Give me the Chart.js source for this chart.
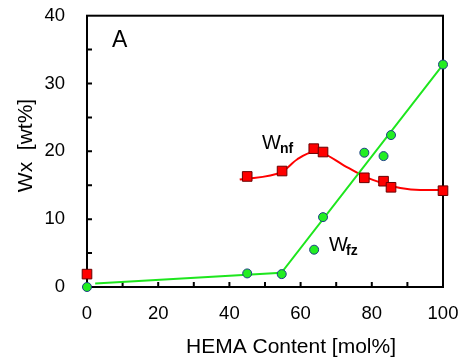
<!DOCTYPE html>
<html>
<head>
<meta charset="utf-8">
<script src="https://cdn.jsdelivr.net/npm/chart.js@4/dist/chart.umd.min.js"></script>
<style>
  body { margin: 0; background: #ffffff }
  #wrap { width: 461px; height: 359px }
</style>
</head>
<body>
<div id="wrap"><canvas id="chart" width="461" height="359"></canvas></div>
<script>
// W_nf (non-freezing water), red squares
var nfX = [0, 45, 54.8, 63.7, 66.3, 77.9, 83.3, 85.4, 100]
var nfY = [1.9, 16.3, 17.1, 20.4, 19.9, 16.1, 15.6, 14.7, 14.2]

// W_fz (freezing water), green circles
var fzX = [0, 45, 54.7, 63.8, 66.3, 77.9, 83.3, 85.4, 100]
var fzY = [0, 2.0, 1.9, 5.5, 10.3, 19.8, 19.3, 22.4, 32.8]

// hand drawn guide curves
var nfCurveX = [42.9, 54.8, 59, 63.7, 66.3, 72.1, 77.9, 83.3, 88, 93.6, 100]
var nfCurveY = [15.85, 17.0, 18.8, 19.9, 19.7, 17.95, 16.3, 15.25, 14.6, 14.3, 14.3]
var fzLineX = [2.3, 54.6, 100]
var fzLineY = [0.5, 2.1, 32.8]

var xTicks = [0, 20, 40, 60, 80, 100]
var yTicks = [0, 10, 20, 30, 40]

var FONT = "'Liberation Sans', Arial, sans-serif"

function toPoints(xs, ys) {
  var pts = []
  for (var i = 0; i < xs.length; i++) {
    pts.push({ x: xs[i], y: ys[i] })
  }
  return pts
}

// fixed axis sizes, and no extra room for the end labels
function fixSize(scale) {
  if (scale.isHorizontal()) {
    scale.height = 72
  } else {
    scale.width = 87
  }
  scale.paddingTop = 0
  scale.paddingBottom = 0
  scale.paddingLeft = 0
  scale.paddingRight = 0
}

// box round the plot and the little inward ticks
var framePlugin = {
  id: "frame",
  beforeDatasetsDraw: function (chart) {
    var ctx = chart.ctx
    var a = chart.chartArea
    var xs = chart.scales.x
    var ys = chart.scales.y
    ctx.save()
    ctx.strokeStyle = "#000000"
    ctx.lineWidth = 2
    ctx.strokeRect(a.left, a.top, a.right - a.left, a.bottom - a.top)
    ctx.beginPath()
    for (var v = 10; v < 100; v += 10) {
      var px = xs.getPixelForValue(v)
      ctx.moveTo(px, a.bottom)
      ctx.lineTo(px, a.bottom - 5)
    }
    for (var w = 5; w < 40; w += 5) {
      var py = ys.getPixelForValue(w)
      ctx.moveTo(a.left, py)
      ctx.lineTo(a.left + 5, py)
    }
    ctx.stroke()
    ctx.restore()
  },
  afterDraw: function (chart) {
    var ctx = chart.ctx
    ctx.save()
    ctx.fillStyle = "#000000"
    ctx.textBaseline = "alphabetic"

    // axis titles
    ctx.font = "21px " + FONT
    ctx.textAlign = "center"
    ctx.fillText("HEMA Content [mol%]", 291, 353)
    ctx.save()
    ctx.translate(32, 145.5)
    ctx.rotate(-Math.PI / 2)
    ctx.fillText("Wx  [wt%]", 0, 0)
    ctx.restore()

    // panel letter
    ctx.textAlign = "left"
    ctx.font = "23px " + FONT
    ctx.fillText("A", 112, 47)

    // series labels with subscripts
    ctx.font = "20px " + FONT
    ctx.fillText("W", 262, 149)
    ctx.fillText("W", 329, 251)
    ctx.font = "bold 14px " + FONT
    ctx.fillText("nf", 280, 153)
    ctx.fillText("fz", 346, 255)
    ctx.restore()
  }
}

new Chart(document.getElementById("chart"), {
  type: "scatter",
  plugins: [framePlugin],
  data: {
    datasets: [{
      label: "Wnf",
      data: toPoints(nfX, nfY),
      pointStyle: "rect",
      pointRadius: 6.8,
      backgroundColor: "#ff0000",
      borderColor: "#6a0000",
      borderWidth: 1,
      clip: false,
      order: 1
    }, {
      label: "Wfz",
      data: toPoints(fzX, fzY),
      pointStyle: "circle",
      pointRadius: 4.5,
      backgroundColor: "#22ee22",
      borderColor: "#1d3f86",
      borderWidth: 1,
      clip: false,
      order: 0
    }, {
      label: "Wnf curve",
      data: toPoints(nfCurveX, nfCurveY),
      showLine: true,
      cubicInterpolationMode: "monotone",
      pointRadius: 0,
      borderColor: "#ff0000",
      borderWidth: 2,
      order: 3
    }, {
      label: "Wfz line",
      data: toPoints(fzLineX, fzLineY),
      showLine: true,
      pointRadius: 0,
      borderColor: "#1ee61e",
      borderWidth: 2,
      order: 2
    }]
  },
  options: {
    responsive: false,
    animation: false,
    layout: { padding: { left: 0, right: 18, top: 15.7, bottom: 0 } },
    plugins: {
      legend: { display: false },
      tooltip: { enabled: false }
    },
    scales: {
      x: {
        type: "linear",
        min: 0,
        max: 100,
        afterFit: fixSize,
        afterBuildTicks: function (scale) {
          scale.ticks = xTicks.map(function (v) { return { value: v } })
        },
        grid: { display: false, drawTicks: false },
        border: { display: false },
        ticks: {
          padding: 16,
          color: "#000000",
          font: { family: FONT, size: 18.5 }
        }
      },
      y: {
        type: "linear",
        min: 0,
        max: 40,
        afterFit: fixSize,
        afterBuildTicks: function (scale) {
          scale.ticks = yTicks.map(function (v) { return { value: v } })
        },
        grid: { display: false, drawTicks: false },
        border: { display: false },
        ticks: {
          padding: 22,
          color: "#000000",
          font: { family: FONT, size: 18.5 }
        }
      }
    }
  }
})
</script>
</body>
</html>
